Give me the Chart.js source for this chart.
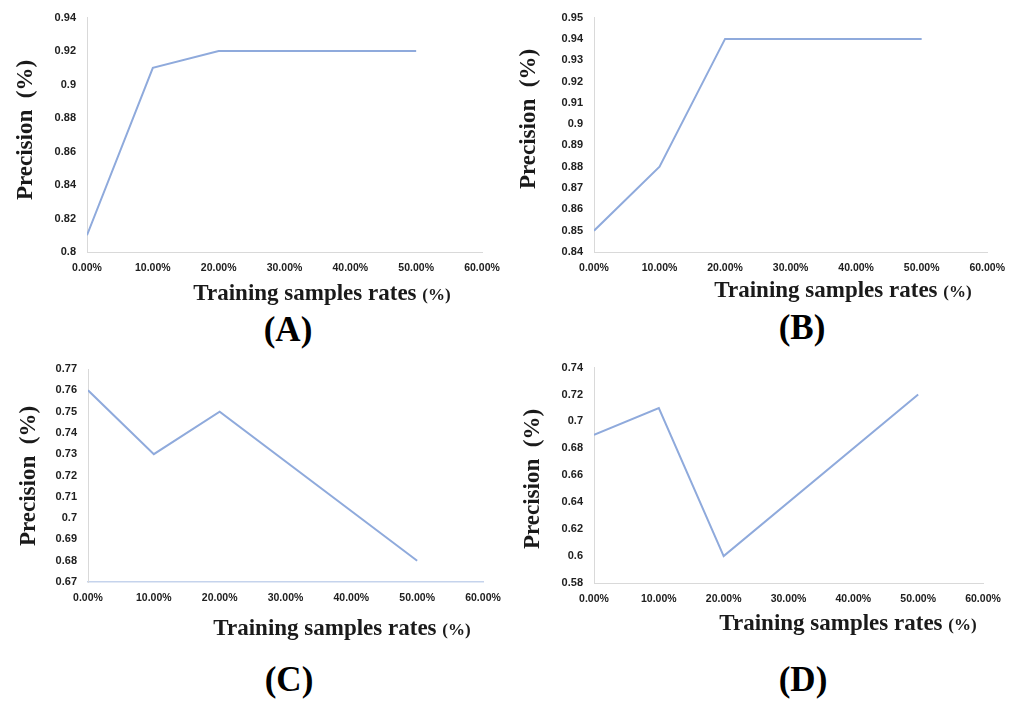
<!DOCTYPE html>
<html>
<head>
<meta charset="utf-8">
<script src="https://cdn.jsdelivr.net/npm/chart.js@4.4.1/dist/chart.umd.min.js"></script>
<style>
  body { margin:0; background:#fff; width:1015px; height:702px; position:relative; overflow:hidden; }
  canvas { position:absolute; }
  .lbl { position:absolute; transform:translate(-50%,-50%); white-space:nowrap; font-family:"Liberation Serif","Times New Roman",serif; font-weight:bold; color:#1a1a1a; }
  .xt { font-size:23px; }
  .xt span { font-size:17px; }
  .yt { font-size:23px; transform:translate(-50%,-50%) rotate(-90deg); }
  .pl { font-size:35px; color:#000; }
</style>
</head>
<body>
<canvas id="chart-a" width="515" height="290" style="left:0;top:0"></canvas>
<canvas id="chart-b" width="515" height="290" style="left:500px;top:0"></canvas>
<canvas id="chart-c" width="515" height="270" style="left:0;top:350px"></canvas>
<canvas id="chart-d" width="515" height="270" style="left:500px;top:350px"></canvas>

<div class="lbl yt" style="left:25px;top:130px">Precision&nbsp;&nbsp;(%)</div>
<div class="lbl yt" style="left:528px;top:119px">Precision&nbsp;&nbsp;(%)</div>
<div class="lbl yt" style="left:28px;top:476px">Precision&nbsp;&nbsp;(%)</div>
<div class="lbl yt" style="left:532px;top:479px">Precision&nbsp;&nbsp;(%)</div>

<div class="lbl xt" style="left:322px;top:293px">Training samples rates <span>(%)</span></div>
<div class="lbl xt" style="left:843px;top:290px">Training samples rates <span>(%)</span></div>
<div class="lbl xt" style="left:342px;top:628px">Training samples rates <span>(%)</span></div>
<div class="lbl xt" style="left:848px;top:623px">Training samples rates <span>(%)</span></div>

<div class="lbl pl" style="left:288px;top:330px">(A)</div>
<div class="lbl pl" style="left:802px;top:328px">(B)</div>
<div class="lbl pl" style="left:289px;top:680px">(C)</div>
<div class="lbl pl" style="left:803px;top:680px">(D)</div>

<script>
const sampleRates = [0, 0.1, 0.2, 0.5];
const precisionA = [0.81, 0.91, 0.92, 0.92];
const precisionB = [0.85, 0.88, 0.94, 0.94];
const precisionC = [0.76, 0.73, 0.75, 0.68];
const precisionD = [0.69, 0.71, 0.60, 0.72];

function drawPanel(id, values, yMin, yMax, yStep, box){
  const ctx = document.getElementById(id);
  new Chart(ctx, {
    type: 'line',
    data: {
      datasets: [{
        data: sampleRates.map((r,i)=>({x:r, y:values[i]})),
        borderColor: '#8faadc',
        borderWidth: 2,
        pointRadius: 0,
        tension: 0,
        fill: false
      }]
    },
    options: {
      responsive: false,
      animation: false,
      layout: { padding: { top: box.top, right: box.right, left: 0, bottom: 0 } },
      plugins: { legend: { display: false }, tooltip: { enabled: false } },
      scales: {
        x: {
          type: 'linear',
          min: 0, max: 0.6,
          grid: { display: false, drawTicks: false },
          border: { color: box.xColor, width: box.xWidth },
          ticks: {
            stepSize: 0.1,
            padding: 10,
            color: '#202020',
            font: { family: 'Liberation Sans', weight: 'bold', size: 10.5 },
            maxRotation: 0,
            callback: function(value){ return (value*100).toFixed(2) + '%'; }
          },
          afterFit: function(scale){ scale.height = box.xh; }
        },
        y: {
          min: yMin, max: yMax,
          grid: { display: false, drawTicks: false },
          border: { color: '#d9d9d9', width: 1 },
          ticks: {
            stepSize: yStep,
            padding: 11,
            color: '#202020',
            font: { family: 'Liberation Sans', weight: 'bold', size: 11 },
            callback: function(value){ return String(Number(value.toFixed(2))); }
          },
          afterFit: function(scale){ scale.width = box.yw; }
        }
      }
    }
  });
}

drawPanel('chart-a', precisionA, 0.8, 0.94, 0.02, {top:16, right:33, yw:87, xh:38, xColor:'#d9d9d9', xWidth:1});
drawPanel('chart-b', precisionB, 0.84, 0.95, 0.01, {top:16, right:26, yw:94, xh:38, xColor:'#d9d9d9', xWidth:1});
drawPanel('chart-c', precisionC, 0.67, 0.77, 0.01, {top:19, right:32, yw:88, xh:38, xColor:'#c5d3ec', xWidth:1.5});
drawPanel('chart-d', precisionD, 0.58, 0.74, 0.02, {top:8, right:32, yw:94, xh:37, xColor:'#d9d9d9', xWidth:1});
</script>
</body>
</html>
